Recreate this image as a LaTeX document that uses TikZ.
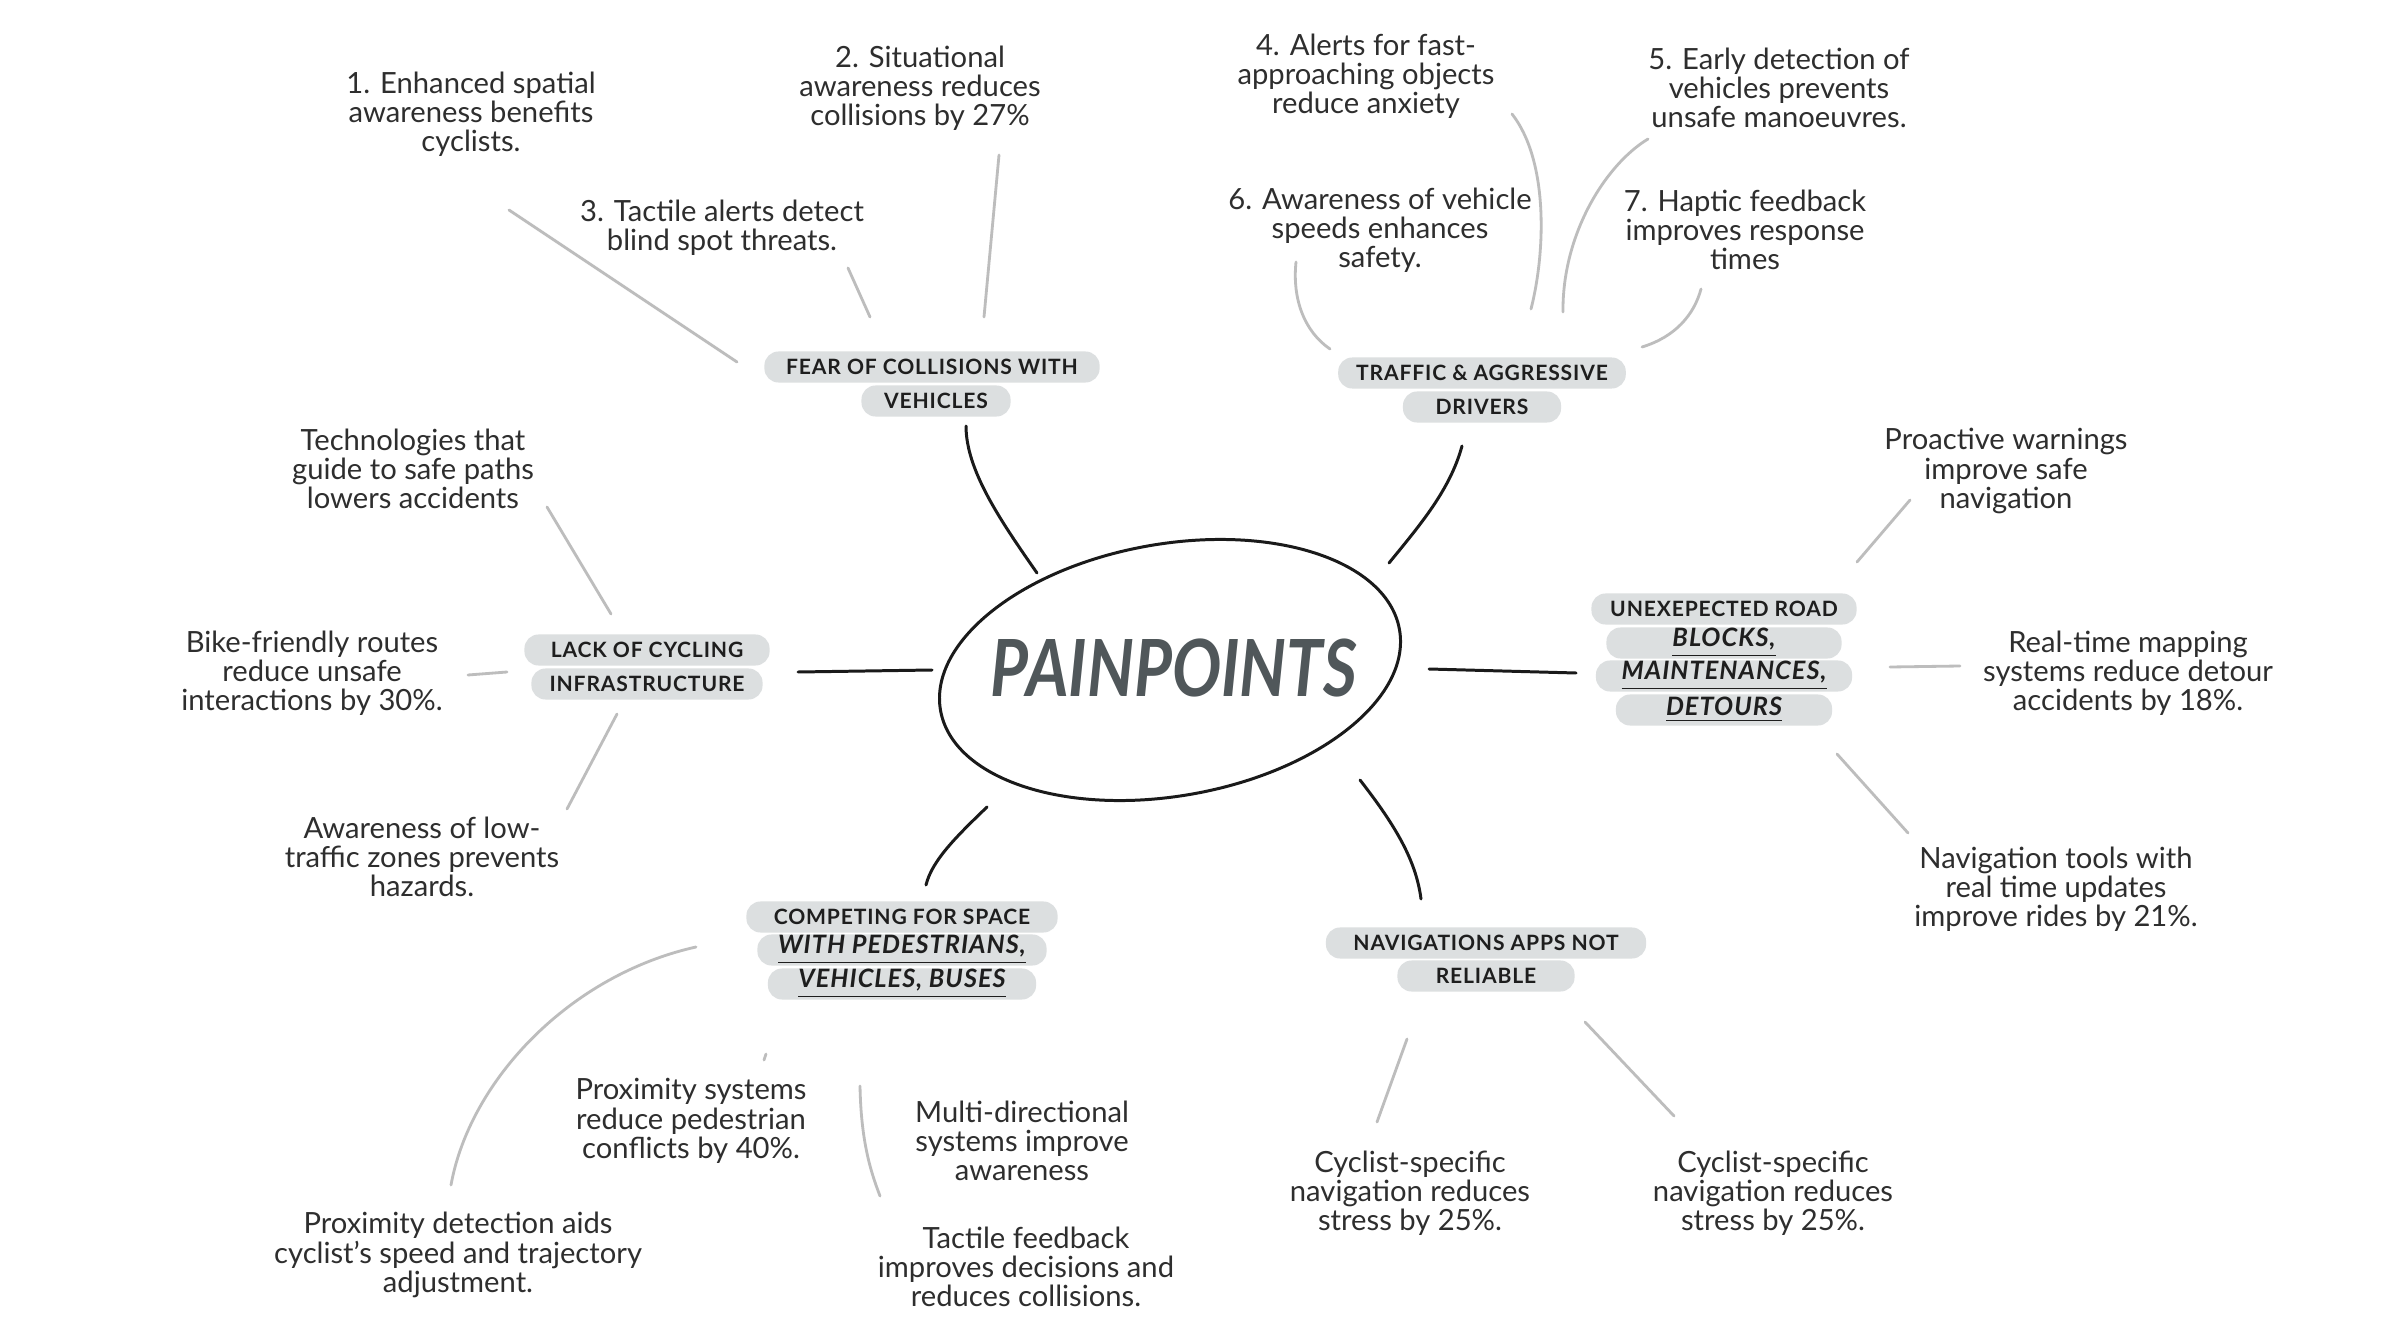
\documentclass[tikz,border=0pt]{standalone}
\usepackage{fontspec}
\usepackage{graphicx}
\setmainfont{Lato}
\newfontfamily\catfam[LetterSpace=4.0]{Lato}
\definecolor{blob}{HTML}{DCDFE0}
\definecolor{txt}{HTML}{2E2E2E}
\definecolor{cattxt}{HTML}{1E1E1E}
\definecolor{leaf}{HTML}{BDBDBD}
\definecolor{spk}{HTML}{1A1A1A}
\definecolor{title}{HTML}{50575A}
\tikzset{
  body/.style={font=\fontsize{8.3}{8.3}\selectfont, align=center, text=txt, inner sep=0pt},
  cat/.style={fill=blob, rounded corners=4pt, inner xsep=0.18cm, inner ysep=0pt, minimum height=0.31cm,
    font=\catfam\bfseries\fontsize{6.0}{7}\selectfont, text=cattxt},
  catem/.style={cat, font=\catfam\bfseries\itshape\fontsize{7.2}{7}\selectfont},
  spoke/.style={draw=spk, line width=0.85pt, line cap=round},
  twig/.style={draw=leaf, line width=0.8pt, line cap=round},
}
\begin{document}
\begin{tikzpicture}[x=0.01cm,y=-0.01cm]
\useasboundingbox (0,0) rectangle (2388,1343);
\fill[white] (0,0) rectangle (2388,1343);

% central ellipse
\draw[spoke, rotate around={10:(1170,670)}] (1170,670) ellipse [x radius=233, y radius=126];
\node[text=title, font=\bfseries\itshape\fontsize{19}{19}\selectfont] (core) at (1174,668) {\scalebox{0.98}[1.18]{PAINPOINTS}};

% categories
\node[cat, minimum width=3.35cm] (fear1) at (932,367) {FEAR OF COLLISIONS WITH};
\node[cat, minimum width=1.49cm] (fear2) at (936,401) {VEHICLES};
\node[cat, minimum width=2.80cm] (traf1) at (1482,373) {TRAFFIC \& AGGRESSIVE};
\node[cat, minimum width=1.58cm] (traf2) at (1482,407) {DRIVERS};
\node[cat, minimum width=2.45cm] (lack1) at (647,650) {LACK OF CYCLING};
\node[cat, minimum width=2.31cm] (lack2) at (647,684) {INFRASTRUCTURE};
\node[cat, minimum width=2.65cm] (unx1) at (1724,609) {UNEXEPECTED ROAD};
\node[catem, minimum width=2.35cm] (unx2) at (1724,643) {\underline{BLOCKS,}};
\node[catem, minimum width=2.56cm] (unx3) at (1724,676) {\underline{MAINTENANCES,}};
\node[catem, minimum width=2.16cm] (unx4) at (1724,710) {\underline{DETOURS}};
\node[cat, minimum width=3.11cm] (comp1) at (902,917) {COMPETING FOR SPACE};
\node[catem, minimum width=2.89cm] (comp2) at (902,950) {\underline{WITH PEDESTRIANS,}};
\node[catem, minimum width=2.68cm] (comp3) at (902,984) {\underline{VEHICLES, BUSES}};
\node[cat, minimum width=3.20cm] (nav1) at (1486,943) {NAVIGATIONS APPS NOT};
\node[cat, minimum width=1.77cm] (nav2) at (1486,976) {RELIABLE};

% spokes (center to categories)
\coordinate (sa1) at (1037,573); \coordinate (sb1) at (966,426);
\coordinate (sa2) at (1389,563); \coordinate (sb2) at (1462,446);
\coordinate (sa3) at (932,670);  \coordinate (sb3) at (798,672);
\coordinate (sa4) at (1429,669); \coordinate (sb4) at (1576,673);
\coordinate (sa5) at (987,807);  \coordinate (sb5) at (926,885);
\coordinate (sa6) at (1360,780); \coordinate (sb6) at (1421,899);
\draw[spoke] (sa1) .. controls (1000,520) and (966,470) .. (sb1);
\draw[spoke] (sa2) .. controls (1420,525) and (1450,490) .. (sb2);
\draw[spoke] (sa3) -- (sb3);
\draw[spoke] (sa4) -- (sb4);
\draw[spoke] (sa5) .. controls (958,835) and (932,860) .. (sb5);
\draw[spoke] (sa6) .. controls (1395,825) and (1416,860) .. (sb6);

% leaf texts
\node[body] (t1) at (471,114) {1. Enhanced spatial\\awareness benefits\\cyclists.};
\node[body] (t2) at (920,88) {2. Situational\\awareness reduces\\collisions by 27\%};
\node[body] (t3) at (722,228) {3. Tactile alerts detect\\blind spot threats.};
\node[body] (t4) at (1366,76) {4. Alerts for fast-\\approaching objects\\reduce anxiety};
\node[body] (t5) at (1779,88) {5. Early detection of\\vehicles prevents\\unsafe manoeuvres.};
\node[body] (t6) at (1380,230) {6. Awareness of vehicle\\speeds enhances\\safety.};
\node[body] (t7) at (1745,230) {7. Haptic feedback\\improves response\\times};
\node[body] (t8) at (2006,471) {Proactive warnings\\improve safe\\navigation};
\node[body] (t9) at (2128,673) {Real-time mapping\\systems reduce detour\\accidents by 18\%.};
\node[body] (t10) at (2056,889) {Navigation tools with\\real time updates\\improve rides by 21\%.};
\node[body] (t11) at (1410,1193) {Cyclist-specific\\navigation reduces\\stress by 25\%.};
\node[body] (t12) at (1773,1193) {Cyclist-specific\\navigation reduces\\stress by 25\%.};
\node[body] (t13) at (413,469) {Technologies that\\guide to safe paths\\lowers accidents};
\node[body] (t14) at (312,673) {Bike-friendly routes\\reduce unsafe\\interactions by 30\%.};
\node[body] (t15) at (422,857) {Awareness of low-\\traffic zones prevents\\hazards.};
\node[body] (t16) at (691,1121) {Proximity systems\\reduce pedestrian\\conflicts by 40\%.};
\node[body] (t17) at (1022,1141) {Multi-directional\\systems improve\\awareness};
\node[body] (t18) at (458,1255) {Proximity detection aids\\cyclist’s speed and trajectory\\adjustment.};
\node[body] (t19) at (1026,1267) {Tactile feedback\\improves decisions and\\reduces collisions.};

% leaf connectors
\coordinate (a1) at (509,210);  \coordinate (b1) at (737,362);
\coordinate (a2) at (999,155);  \coordinate (b2) at (984,317);
\coordinate (a3) at (848,268);  \coordinate (b3) at (870,317);
\coordinate (a4) at (1512,114); \coordinate (b4) at (1531,309);
\coordinate (a5) at (1648,139); \coordinate (b5) at (1563,312);
\coordinate (a6) at (1296,262); \coordinate (b6) at (1330,349);
\coordinate (a7) at (1701,289); \coordinate (b7) at (1642,347);
\coordinate (a8) at (1910,500); \coordinate (b8) at (1857,562);
\coordinate (a9) at (1960,666); \coordinate (b9) at (1890,667);
\coordinate (a10) at (1908,833); \coordinate (b10) at (1837,754);
\coordinate (a11) at (1377,1122); \coordinate (b11) at (1407,1039);
\coordinate (a12) at (1674,1116); \coordinate (b12) at (1585,1022);
\coordinate (a13) at (547,507);  \coordinate (b13) at (611,614);
\coordinate (a14) at (468,675);  \coordinate (b14) at (507,672);
\coordinate (a15) at (567,809);  \coordinate (b15) at (617,714);
\coordinate (a16) at (764,1060); \coordinate (b16) at (766,1054);
\coordinate (a17) at (880,1196); \coordinate (b17) at (860,1086);
\coordinate (a18) at (451,1185); \coordinate (b18) at (696,947);

\draw[twig] (a1) -- (b1);
\draw[twig] (a2) -- (b2);
\draw[twig] (a3) -- (b3);
\draw[twig] (a4) .. controls (1548,160) and (1546,250) .. (b4);
\draw[twig] (a5) .. controls (1605,165) and (1562,235) .. (b5);
\draw[twig] (a6) .. controls (1292,300) and (1305,332) .. (b6);
\draw[twig] (a7) .. controls (1694,315) and (1675,337) .. (b7);
\draw[twig] (a8) -- (b8);
\draw[twig] (a9) -- (b9);
\draw[twig] (a10) -- (b10);
\draw[twig] (a11) -- (b11);
\draw[twig] (a12) -- (b12);
\draw[twig] (a13) -- (b13);
\draw[twig] (a14) -- (b14);
\draw[twig] (a15) -- (b15);
\draw[twig] (a16) -- (b16);
\draw[twig] (a17) .. controls (870,1170) and (861,1140) .. (b17);
\draw[twig] (a18) .. controls (470,1080) and (570,975) .. (b18);
\end{tikzpicture}
\end{document}
